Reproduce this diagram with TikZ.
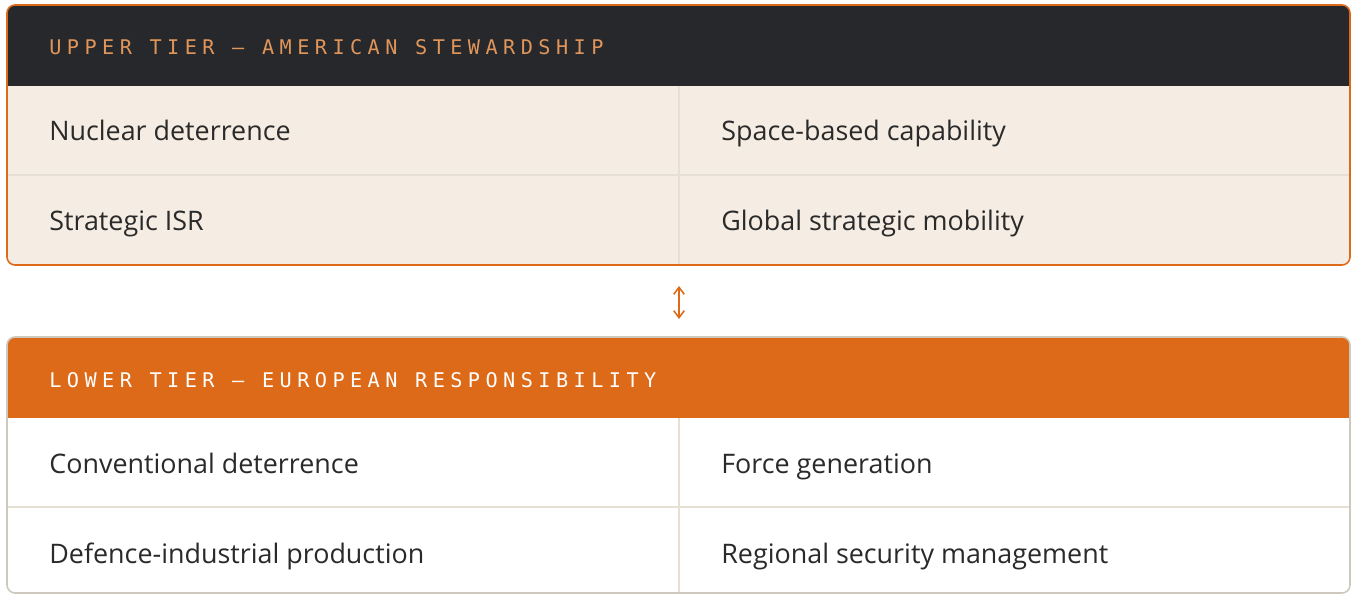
\documentclass[tikz,border=0pt]{standalone}
\usepackage{fontspec}
\setmainfont{Open Sans}
\newfontfamily\tiermono[LetterSpace=27]{DejaVu Sans Mono}
\usetikzlibrary{arrows.meta}

\definecolor{tierdark}{HTML}{26282C}
\definecolor{tierorange}{HTML}{DD6A18}
\definecolor{tierlabel}{HTML}{E0955A}
\definecolor{tiercream}{HTML}{F5EDE3}
\definecolor{tierrule}{HTML}{E6E0D4}
\definecolor{tiergrey}{HTML}{CDC9BF}
\definecolor{tiertext}{HTML}{2A2A2A}

\tikzset{
  tierframe/.style={rounded corners=0.16cm},
  tierhead/.style={anchor=base west,inner sep=0pt,font=\tiermono\fontsize{11.5}{13}\selectfont},
  tiercell/.style={anchor=base west,inner sep=0pt,text=tiertext,font=\fontsize{15.3}{18}\selectfont},
  tierline/.style={draw=tierrule,line width=1.1pt}
}

\begin{document}
\begin{tikzpicture}[x=0.02cm,y=-0.02cm]
  \useasboundingbox (0,0) rectangle (1351,594);

  % Upper tier
  \begin{scope}
    \clip[tierframe] (7,5) rectangle (1350,265);
    \fill[tiercream] (7,5) rectangle (1350,265);
    \fill[tierdark] (7,5) rectangle (1350,86);
    \draw[tierline] (679,86) -- (679,265);
    \draw[tierline] (7,175) -- (1350,175);
  \end{scope}
  \draw[tierframe,draw=tierorange,line width=0.9pt] (7,5) rectangle (1350,265);
  \coordinate (upper) at (679,265);

  \node[tierhead,text=tierlabel] (uphead) at (49,55) {UPPER TIER — AMERICAN STEWARDSHIP};
  \node[tiercell] (nuc) at (49,141) {Nuclear deterrence};
  \node[tiercell] (space) at (721,141) {Space-based capability};
  \node[tiercell] (isr) at (49,231) {Strategic ISR};
  \node[tiercell] (mob) at (721,231) {Global strategic mobility};

  % Lower tier
  \begin{scope}
    \clip[tierframe] (7,337) rectangle (1350,593);
    \fill[white] (7,337) rectangle (1350,593);
    \fill[tierorange] (7,337) rectangle (1350,418);
    \draw[tierline] (679,418) -- (679,593);
    \draw[tierline] (7,507) -- (1350,507);
  \end{scope}
  \draw[tierframe,draw=tiergrey,line width=0.9pt] (7,337) rectangle (1350,593);
  \coordinate (lower) at (679,337);

  \node[tierhead,text=white] (lowhead) at (49,387) {LOWER TIER — EUROPEAN RESPONSIBILITY};
  \node[tiercell] (conv) at (49,473) {Conventional deterrence};
  \node[tiercell] (force) at (721,473) {Force generation};
  \node[tiercell] (ind) at (49,563) {Defence-industrial production};
  \node[tiercell] (reg) at (721,563) {Regional security management};

  % Link
  \draw[{Straight Barb[length=4pt,width=6pt]}-{Straight Barb[length=4pt,width=6pt]},draw=tierorange,line width=0.9pt,shorten <=0.42cm,shorten >=0.36cm] (upper) -- (lower);
\end{tikzpicture}
\end{document}
